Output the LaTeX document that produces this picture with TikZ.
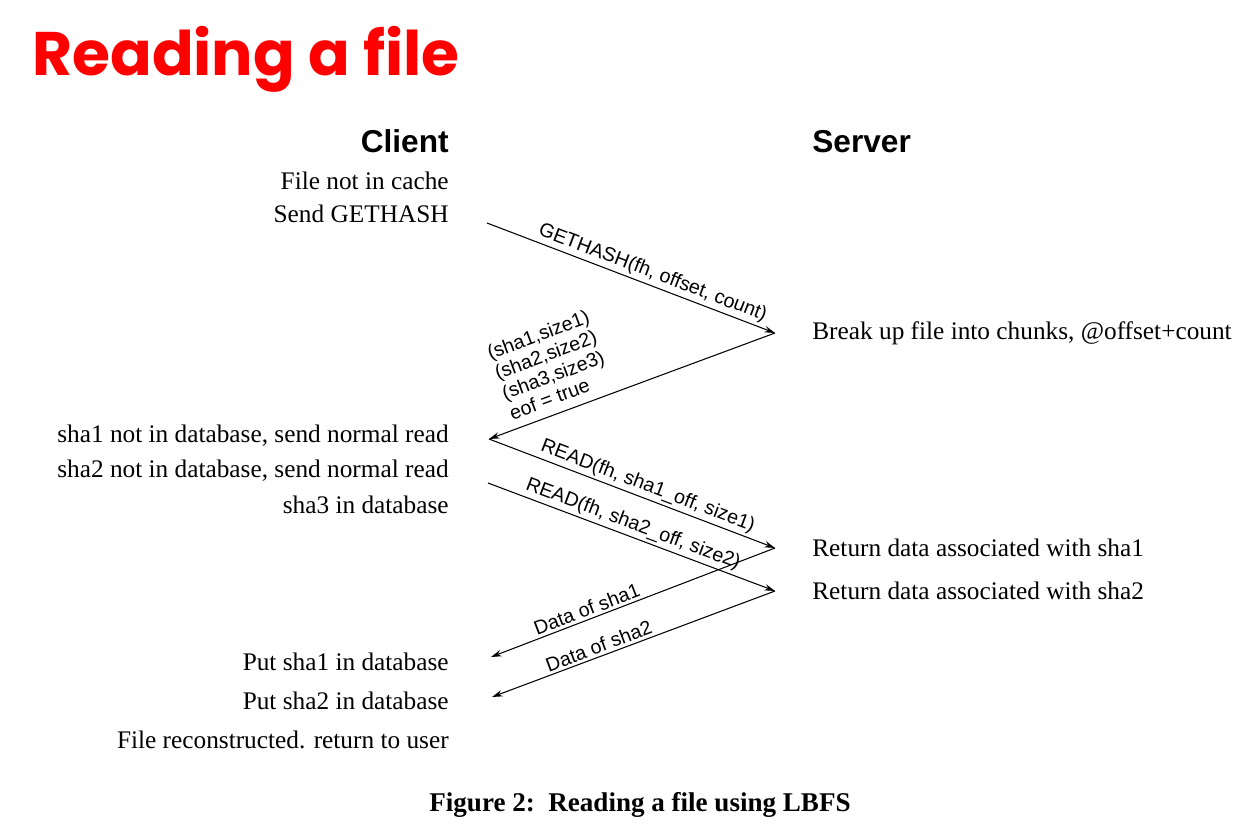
\documentclass[tikz,border=0pt]{standalone}
\usepackage{fontspec}
\setmainfont{Liberation Serif}
\newfontfamily\hsans{Liberation Sans}
\newfontfamily\titlefont{Poppins}
\usetikzlibrary{arrows.meta}
\tikzset{
  cl/.style={anchor=base east, font=\fontsize{14.4}{16}\selectfont, inner sep=0pt},
  sv/.style={anchor=base west, font=\fontsize{14.4}{16}\selectfont, inner sep=0pt},
  hdr/.style={font=\hsans\bfseries\fontsize{18}{20}\selectfont, inner sep=0pt},
  msg/.style={line width=0.6pt, -{Stealth[length=6pt,width=3.6pt]}},
  lbl/.style={font=\hsans\fontsize{11.2}{12.2}\selectfont, sloped, above, inner sep=1.5pt},
}
\begin{document}
\begin{tikzpicture}[x=0.02cm,y=-0.02cm]
\useasboundingbox (0,0) rectangle (1260,835);
\node[anchor=base west, inner sep=0pt, text=red, font=\titlefont\bfseries\fontsize{35}{40}\selectfont] (title) at (32,75) {Reading a file};
\node[hdr, anchor=base east] (client) at (449,152) {Client};
\node[hdr, anchor=base west] (server) at (812,152) {Server};
% client side events
\node[cl] (e1) at (449,189) {File not in cache};
\node[cl] (e2) at (449,222) {Send GETHASH};
\node[cl] (e3) at (449,442) {sha1 not in database, send normal read};
\node[cl] (e4) at (449,477) {sha2 not in database, send normal read};
\node[cl] (e5) at (449,513) {sha3 in database};
\node[cl] (e6) at (449,670) {Put sha1 in database};
\node[cl] (e7) at (449,709) {Put sha2 in database};
\node[cl] (e8) at (449,748) {File reconstructed. return to user};
% server side events
\node[sv] (r1) at (812,339) {Break up file into chunks, @offset+count};
\node[sv] (r2) at (812,556) {Return data associated with sha1};
\node[sv] (r3) at (812,599) {Return data associated with sha2};
% message end points
\coordinate (c1) at (487,223);
\coordinate (s1) at (775,333);
\coordinate (c2) at (489,439);
\coordinate (s2) at (775,548);
\coordinate (c3) at (488,483);
\coordinate (s3) at (775,591);
\coordinate (c4) at (491,657);
\coordinate (c5) at (492,697);
\draw[msg] (c1) -- node[lbl,pos=0.56] {GETHASH(fh, offset, count)} (s1);
\draw[msg] (s1) -- node[lbl,pos=0.73,align=left,inner sep=5pt] {(sha1,size1)\\(sha2,size2)\\(sha3,size3)\\eof = true} (c2);
\draw[msg] (c2) -- node[lbl,pos=0.54] {READ(fh, sha1\_off, size1)} (s2);
\draw[msg] (c3) -- node[lbl,pos=0.49] {READ(fh, sha2\_off, size2)} (s3);
\draw[msg] (s2) -- node[lbl,pos=0.65] {Data of sha1} (c4);
\draw[msg] (s3) -- node[lbl,pos=0.61] {Data of sha2} (c5);
\node[anchor=base, inner sep=0pt, font=\bfseries\fontsize{15.4}{17}\selectfont] (caption) at (640,811) {Figure 2:\ \ Reading a file using LBFS};
\end{tikzpicture}
\end{document}
